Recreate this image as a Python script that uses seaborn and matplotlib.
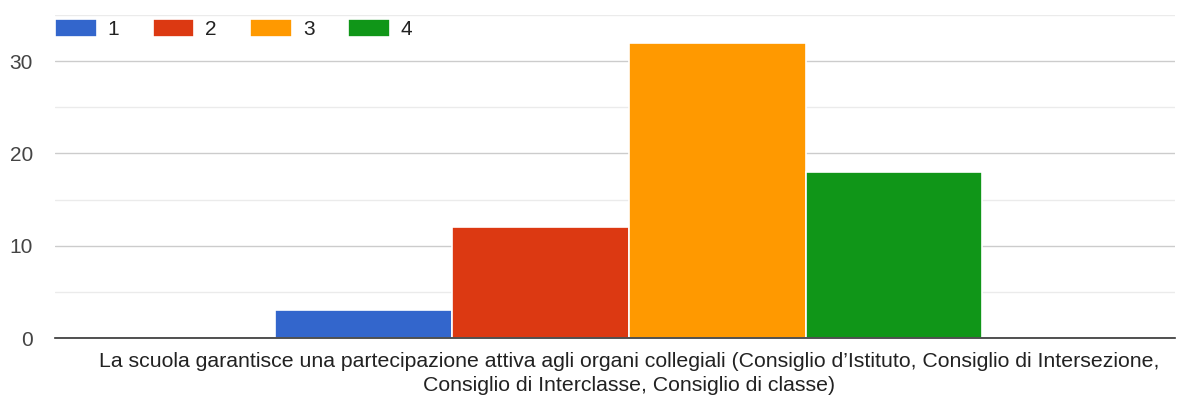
import matplotlib
matplotlib.use("Agg")
import matplotlib.pyplot as plt
import seaborn as sns
import pandas as pd

question = ("La scuola garantisce una partecipazione attiva agli organi collegiali "
            "(Consiglio d\u2019Istituto, Consiglio di Intersezione,\n"
            "Consiglio di Interclasse, Consiglio di classe)")
risposte = ["1", "2", "3", "4"]
conteggi = [3, 12, 32, 18]
colori = ["#3366cc", "#dc3912", "#ff9900", "#109618"]

df = pd.DataFrame({
    "domanda": [question] * len(risposte),
    "risposta": risposte,
    "conteggio": conteggi,
})

sns.set_theme(style="white")
plt.rcParams["font.family"] = ["Liberation Sans", "DejaVu Sans"]

fig = plt.figure(figsize=(11.91, 4.01), dpi=100)
ax = fig.add_axes([0.0462, 0.157, 0.9404, 0.8056])

sns.barplot(data=df, x="domanda", y="conteggio", hue="risposta",
            palette=colori, width=0.8, edgecolor="white", linewidth=1.2,
            saturation=1, ax=ax, zorder=3)

ax.set_xlim(-0.649, 0.618)
ax.set_ylim(0, 35)
ax.set_yticks([0, 10, 20, 30])
ax.set_yticks([5, 15, 25, 35], minor=True)
ax.grid(axis="y", which="major", color="#cccccc", linewidth=1, zorder=0)
ax.grid(axis="y", which="minor", color="#ebebeb", linewidth=1, zorder=0)
ax.tick_params(axis="both", which="both", length=0)
ax.tick_params(axis="y", labelsize=15, labelcolor="#444444", pad=16)
ax.tick_params(axis="x", labelsize=15.3, labelcolor="#222222", pad=10)
for lbl in ax.get_xticklabels():
    lbl.set_horizontalalignment("center")
    lbl.set_linespacing(1.32)
ax.set_xlabel("")
ax.set_ylabel("")

for side in ["top", "right", "left"]:
    ax.spines[side].set_visible(False)
ax.spines["bottom"].set_color("#333333")
ax.spines["bottom"].set_linewidth(1.2)
ax.spines["bottom"].set_zorder(4)

leg = ax.legend(title=None, ncol=4, loc="center left",
                bbox_to_anchor=(0.0, 0.957), frameon=False,
                fontsize=15, handlelength=2.0, handleheight=1.0,
                handletextpad=0.53, columnspacing=1.6, borderaxespad=0,
                borderpad=0)
for t in leg.get_texts():
    t.set_color("#222222")

fig.savefig("out.png", dpi=100, facecolor="white")
